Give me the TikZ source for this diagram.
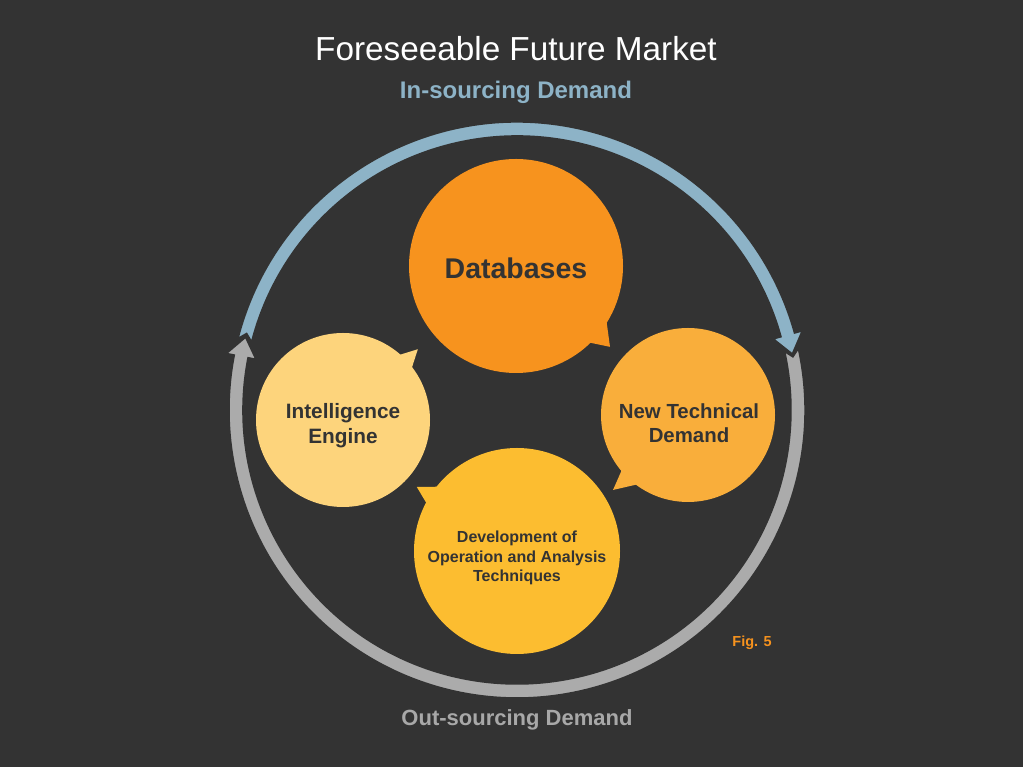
\documentclass[tikz,border=0pt]{standalone}
\usepackage{fontspec}
\setmainfont{Liberation Sans}
\definecolor{bgc}{HTML}{333333}
\definecolor{bluearc}{HTML}{8DB3C7}
\definecolor{grayarc}{HTML}{ABABAB}
\definecolor{cdb}{HTML}{F7931E}
\definecolor{cnt}{HTML}{F9AE3B}
\definecolor{cdv}{HTML}{FCBD30}
\definecolor{cie}{HTML}{FDD47C}
\definecolor{txtdark}{HTML}{333333}
\definecolor{insrc}{HTML}{8DB3C7}
\definecolor{outsrc}{HTML}{A8A8A8}
\definecolor{figc}{HTML}{F7931E}
\tikzset{
  bubbletext/.style={text=txtdark, align=center, font=\bfseries},
  ringarrow/.style={draw=bgc, line width=1.5pt, line join=miter},
}
\begin{document}
\begin{tikzpicture}[x=1pt,y=1pt]
\fill[bgc] (0,0) rectangle (1023,767);
\useasboundingbox (0,0) rectangle (1023,767);

% ring arrows
\begin{scope}[shift={(517,357)}]
  \fill[bluearc, ringarrow] (165.6:288) arc[start angle=165.6,end angle=15.5,radius=288]
    -- (15.5:296) -- (11.5:281) -- (15.5:266) -- (15.5:274)
    arc[start angle=15.5,end angle=165.6,radius=274] -- (164.2:281) -- cycle;
  \fill[grayarc, ringarrow] (12.3:288) arc[start angle=12.3,end angle=-191,radius=288]
    -- (-191:296) -- (-195:281) -- (-191:266) -- (-191:274)
    arc[start angle=-191,end angle=12.3,radius=274] -- (10.9:281) -- cycle;
\end{scope}

% Databases bubble
\begin{scope}[shift={(516,501)}]
  \fill[cdb] (0,0) circle[radius=107];
  \fill[cdb] (-47:104) -- (-40.7:124) -- (-30:104) -- cycle;
\end{scope}
% Intelligence Engine bubble
\begin{scope}[shift={(343,347)}]
  \fill[cie] (0,0) circle[radius=87];
  \fill[cie] (36:84) -- (43.4:103) -- (50:84) -- cycle;
\end{scope}
% New Technical Demand bubble
\begin{scope}[shift={(688,352)}]
  \fill[cnt] (0,0) circle[radius=87];
  \fill[cnt] (219:84) -- (225:106) -- (235:84) -- cycle;
\end{scope}
% Development bubble
\begin{scope}[shift={(517,216)}]
  \fill[cdv] (0,0) circle[radius=103];
  \fill[cdv] (140:100) -- (147.4:119) -- (153:100) -- cycle;
\end{scope}

% texts
\node (db) [bubbletext, font=\bfseries\fontsize{28.5}{31}\selectfont] at (516,499) {Databases};
\node (ie) [bubbletext, font=\bfseries\fontsize{20.8}{25}\selectfont] at (343,341) {Intelligence\\Engine};
\node (nt) [bubbletext, font=\bfseries\fontsize{20.4}{24.5}\selectfont] at (689,344) {New Technical\\Demand};
\node (dv) [bubbletext, font=\bfseries\fontsize{16}{19.8}\selectfont] at (517,209) {Development of\\Operation and Analysis\\Techniques};

\node (title) [text=white, font=\fontsize{33.3}{36}\selectfont] at (516,718) {Foreseeable Future Market};
\node (ins) [text=insrc, font=\bfseries\fontsize{24}{26}\selectfont] at (516,675) {In-sourcing Demand};
\node (outs) [text=outsrc, font=\bfseries\fontsize{22}{26}\selectfont] at (517,47) {Out-sourcing Demand};
\node (fig) [text=figc, font=\bfseries\fontsize{14.5}{16}\selectfont] at (752,124) {Fig. 5};
\end{tikzpicture}
\end{document}
